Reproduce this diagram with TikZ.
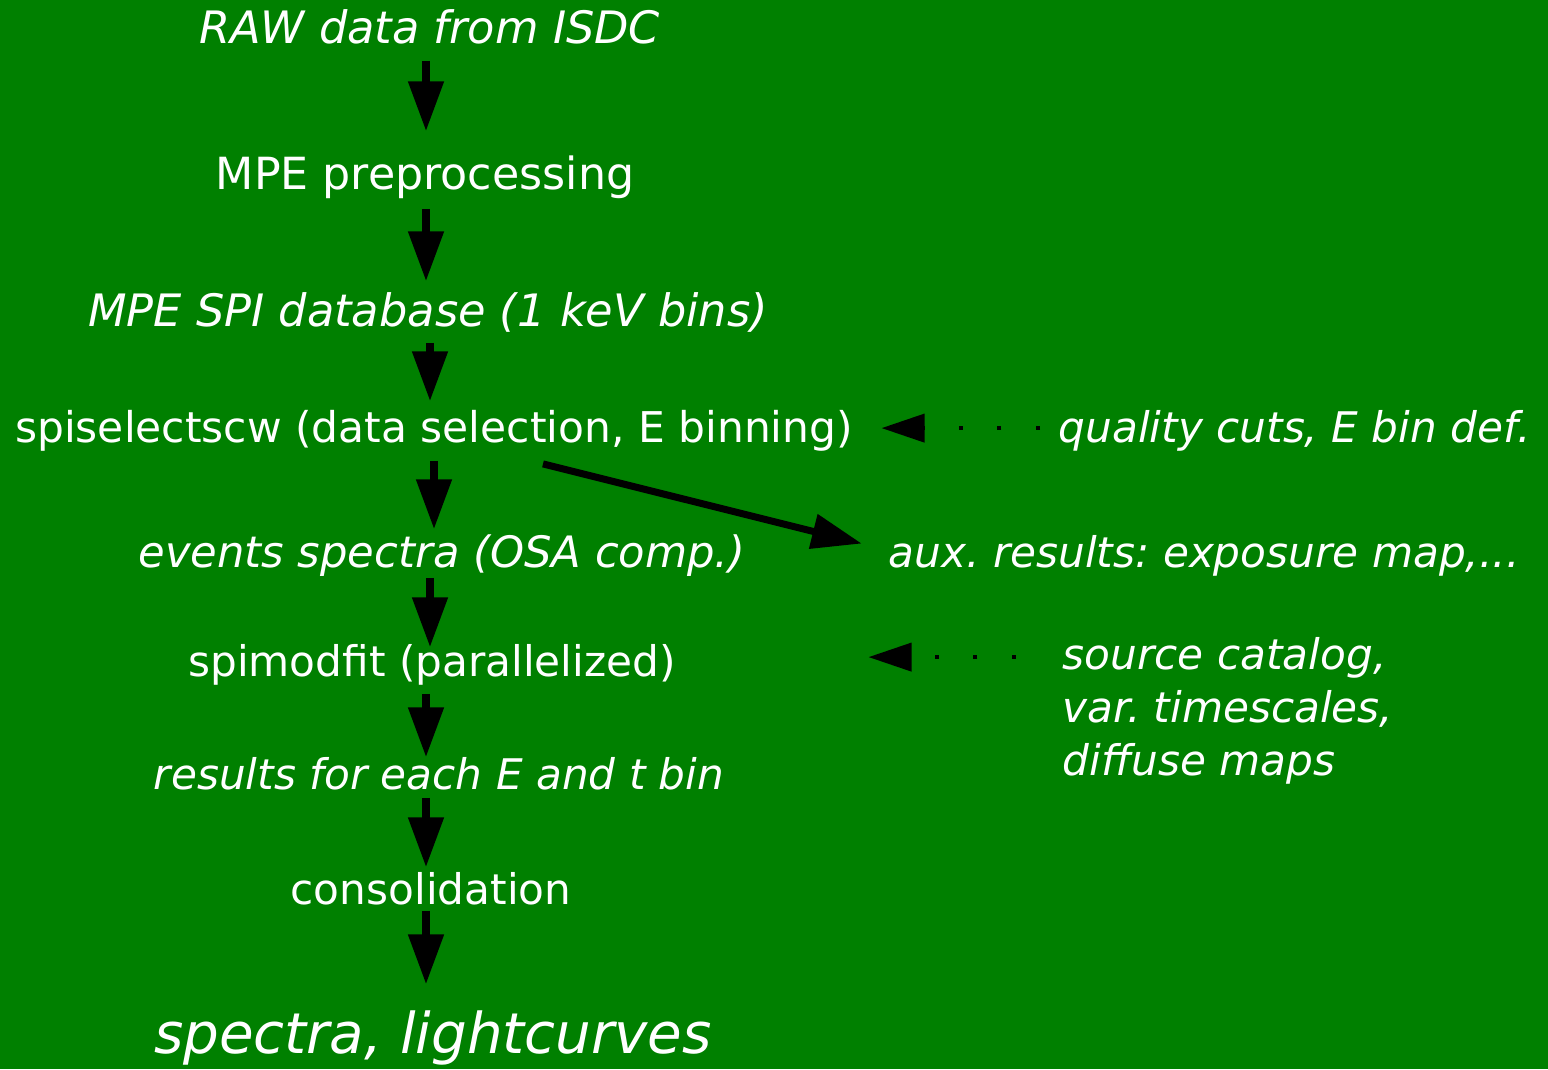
\documentclass[tikz,border=0pt]{standalone}
\usepackage{fontspec}
\setmainfont{DejaVu Sans}
\usetikzlibrary{arrows.meta,calc}
\definecolor{bggreen}{RGB}{0,128,0}
\frenchspacing

\begin{document}
\begin{tikzpicture}[
    x=0.01cm, y=-0.01cm,
    txt/.style={text=white, font=\fontsize{12pt}{15pt}\selectfont, inner sep=0pt, text height=9.1pt, text depth=2.9pt},
    itxt/.style={txt, font=\fontsize{12pt}{15pt}\selectfont\itshape},
    otxt/.style={txt, font=\fontsize{16pt}{19pt}\selectfont\itshape, text height=12.2pt, text depth=3.8pt},
    ctxt/.style={text=white, font=\fontsize{12pt}{15pt}\selectfont\itshape, inner sep=0pt, align=left},
    arr/.style={-{Triangle[length=0.5cm,width=0.34cm]}, line width=0.08cm},
    darr/.style={-{Triangle[length=0.43cm,width=0.28cm]}, line width=0.04cm, dash pattern=on 0.04cm off 0.345cm}
]
\fill[bggreen] (0,0) rectangle (1548,1069);

% main chain
\node[itxt, anchor=base, font=\fontsize{12.7pt}{15pt}\selectfont\itshape] (raw) at (430,43) {RAW data from ISDC};
\node[txt, anchor=base, font=\fontsize{12.6pt}{15pt}\selectfont] (prep) at (425,189) {MPE preprocessing};
\node[itxt, anchor=base, font=\fontsize{12.7pt}{15pt}\selectfont\itshape] (db) at (428,326) {MPE SPI database (1 keV bins)};
\node[txt, anchor=base, font=\fontsize{12.05pt}{15pt}\selectfont] (sel) at (434,442) {spiselectscw (data selection, E binning)};
\node[itxt, anchor=base, font=\fontsize{12.3pt}{15pt}\selectfont\itshape] (evts) at (442,567) {events spectra (OSA comp.)};
\node[txt, anchor=base] (fit) at (432,676) {spimodfit (parallelized)};
\node[itxt, anchor=base] (res) at (439,789) {results for each E and t bin};
\node[txt, anchor=base] (cons) at (431,904) {consolidation};
\node[otxt, anchor=base] (out) at (433,1053) {spectra, lightcurves};

% side inputs and outputs
\node[itxt, anchor=base west] (cuts) at (1058,442) {quality cuts, E bin def.};
\node[itxt, anchor=base west] (aux) at (888,567) {aux. results: exposure map,...};
\node[ctxt, anchor=north west] (cat) at (1062,637) {source catalog,\\var. timescales,\\diffuse maps};

\foreach \a/\b/\s/\e/\x in {raw/prep/7/25/-4, prep/db/9/12/1, db/sel/6/8/2, sel/evts/8/5/0,
    evts/fit/0/-4/-12, fit/res/7/-1/-6, res/cons/-2/4/-13, cons/out/-4/25/-5}
  \draw[arr, shorten <=\s*0.01cm, shorten >=\e*0.01cm] ([xshift=\x*0.01cm]\a.south) -- ([xshift=\x*0.01cm]\a.south |- \b.north);

\draw[arr, line width=0.07cm, shorten >=0.27cm] ($(sel.south)+(109,11)$) -- ([yshift=0.06cm]aux.west);

\coordinate (cutsin) at ([yshift=0.03cm]cuts.west);
\coordinate (catin) at ([yshift=0.08cm]fit.east);
\draw[darr, shorten <=0.18cm, shorten >=0.28cm] (cutsin) -- (cutsin -| sel.east);
\draw[darr, shorten <=0.46cm, shorten >=0.15cm] (catin -| cat.west) -- (catin -| sel.east);
\end{tikzpicture}
\end{document}
